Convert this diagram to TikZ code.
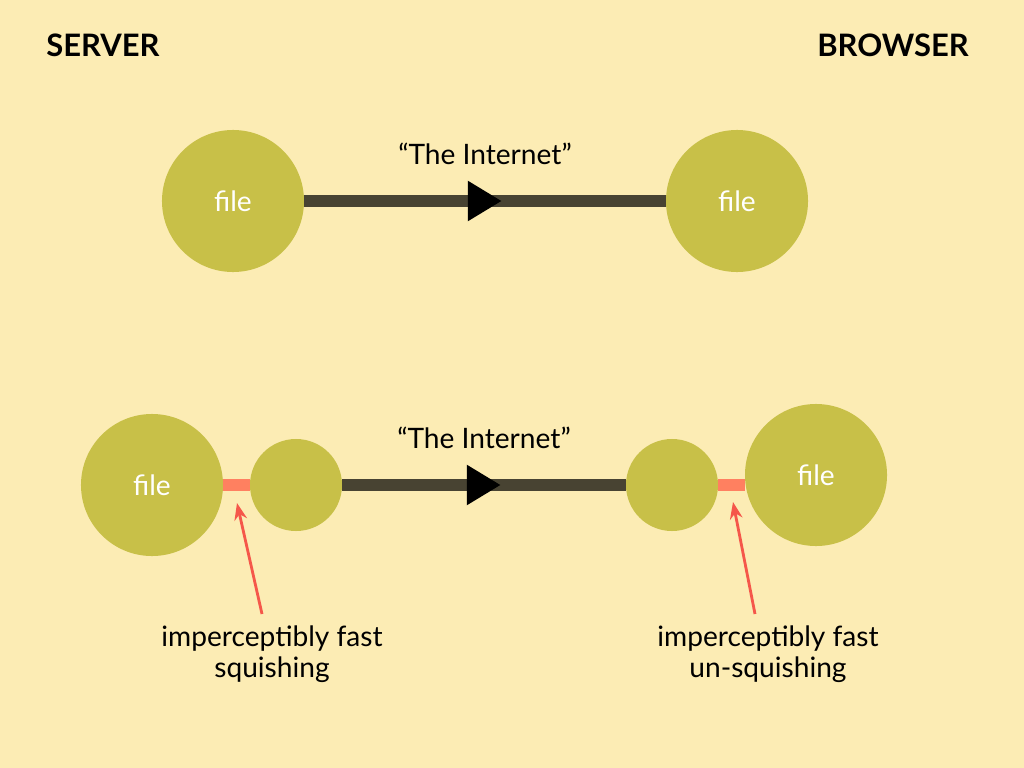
\documentclass[tikz,border=0pt]{standalone}
\usepackage{fontspec}
\setmainfont{Lato}
\usetikzlibrary{arrows.meta}
\usetikzlibrary{decorations.markings}
\definecolor{paper}{RGB}{252,236,180}
\definecolor{olive}{RGB}{200,192,72}
\definecolor{wire}{RGB}{72,67,50}
\definecolor{squash}{RGB}{255,128,96}
\definecolor{pointred}{RGB}{245,87,74}
\tikzset{
  every picture/.style={
    x=0.025cm, y=-0.025cm
  },
  bigfile/.style={
    circle, fill=olive, minimum size=3.55cm,
    inner sep=0pt, text=white, font=\fontsize{20}{22}\selectfont
  },
  smallfile/.style={
    circle, fill=olive, minimum size=2.3cm, inner sep=0pt
  }
}

\begin{document}
\begin{tikzpicture}[
    internet/.style={
      line width=0.3cm, draw=wire,
      decoration={markings,mark=at position 0.5 with {\arrow[xshift=0.42cm]{Triangle[length=0.85cm,width=0.95cm,color=black]}}},
      postaction={decorate}
    },
    squish/.style={line width=0.3cm, draw=squash},
    pointer/.style={pointred, line width=2pt, -{Stealth[length=12pt,width=9pt]}},
    caption/.style={align=center, font=\fontsize{20}{22}\selectfont},
    side/.style={font=\fontsize{22}{24}\selectfont\bfseries}
  ]
  \fill[paper] (0,0) rectangle (1024,768);
  \useasboundingbox (0,0) rectangle (1024,768);

  \node[side] (server) at (103,45) {SERVER};
  \node[side] (browser) at (893,45) {BROWSER};

  % plain transfer
  \node[bigfile] (src) at (233,201) {file};
  \node[bigfile] (dst) at (737,201) {file};
  \draw[internet] (src) -- (dst) node [midway,above=18pt,caption] {“The Internet”};

  % squished transfer
  \node[bigfile] (src2) at (152,485) {file};
  \node[smallfile] (packA) at (296,485) {};
  \node[smallfile] (packB) at (672,485) {};
  \node[bigfile] (dst2) at (816,475) {file};
  \draw[squish] (src2.east) -- (packA.west);
  \draw[squish] (packB.east) -- (dst2.west |- packB.east);
  \draw[internet] (packA) -- (packB) node [midway,above=18pt,caption] {“The Internet”};

  \node[caption] (squishtxt) at (272,654) {imperceptibly fast\\squishing};
  \node[caption] (unsquishtxt) at (768,654) {imperceptibly fast\\un-squishing};
  \coordinate (sqfoot) at (262,614);
  \coordinate (sqtip) at (237,503);
  \coordinate (unfoot) at (755,614);
  \coordinate (untip) at (733,502);
  \draw[pointer] (sqfoot) -- (sqtip);
  \draw[pointer] (unfoot) -- (untip);
\end{tikzpicture}
\end{document}
